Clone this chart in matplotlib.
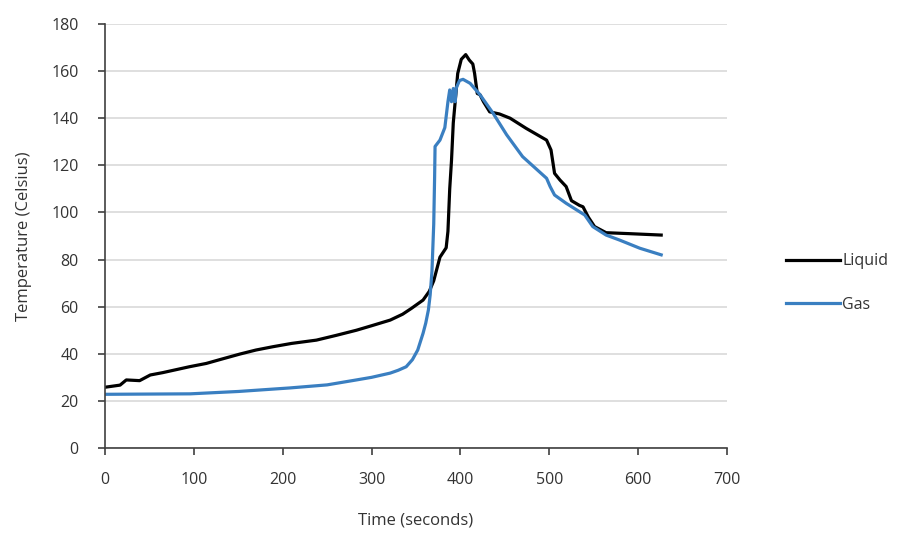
import matplotlib.pyplot as plt

# Liquid thermocouple readings
liquid_t = [0, 17, 24, 39, 51, 65, 77, 95, 114, 130, 152, 170, 189, 210, 238,
            260, 283, 300, 321, 335, 345, 358, 365, 370, 377, 384, 386, 388,
            390, 392, 397, 401, 406, 410, 414, 416, 419, 422, 426, 433, 444,
            456, 474, 497, 502, 506, 512, 519, 525, 534, 538, 544, 551, 564,
            590, 626]
liquid_T = [25.8, 26.7, 28.9, 28.6, 31, 32, 33, 34.5, 35.9, 37.6, 39.9, 41.6,
            43, 44.4, 45.8, 47.8, 50, 51.9, 54.3, 56.8, 59.3, 62.8, 66.5, 71,
            81, 85, 92, 110, 122, 138, 159, 165, 167, 164.7, 163, 159, 150.5,
            150, 147, 142.7, 141.8, 140, 135.7, 130.7, 126.5, 116.6, 113.8,
            111, 105, 103, 102.4, 98, 94, 91.4, 91, 90.4]

# Gas thermocouple readings
gas_t = [0, 96, 150, 208, 250, 283, 300, 321, 330, 339, 346, 352, 358, 361,
         364, 366, 368, 370, 371, 371.5, 377, 382.5, 386, 388, 390, 392, 394,
         395.5, 399, 403, 411, 422, 437, 452, 470, 497, 501, 506, 519, 540,
         549, 564, 579, 602, 626]
gas_T = [22.8, 23, 24, 25.5, 26.8, 28.9, 30, 31.8, 33, 34.5, 37.5, 41.6, 48.7,
         53, 58.6, 65, 75, 95, 115, 128, 130.7, 136, 147, 152, 147, 152.6, 147,
         153, 156, 156.5, 154.8, 150, 142, 133, 123.7, 114.5, 111, 107.4,
         103.9, 98.9, 94, 90.4, 88.3, 84.8, 82]

x_ticks = [0, 100, 200, 300, 400, 500, 600, 700]
y_ticks = [0, 20, 40, 60, 80, 100, 120, 140, 160, 180]

plt.rcParams['font.family'] = ['Open Sans', 'DejaVu Sans']
text_color = '#333333'

fig = plt.figure(figsize=(9.08, 5.39), dpi=100)
ax = fig.add_axes([0.1156, 0.1688, 0.685, 0.7867])

ax.plot(liquid_t, liquid_T, color='#000000', lw=2.3, label='Liquid')
ax.plot(gas_t, gas_T, color='#3a7fc1', lw=2.3, label='Gas')

ax.set_xlim(0, 700)
ax.set_ylim(0, 180)
ax.set_xticks(x_ticks)
ax.set_yticks(y_ticks)

ax.grid(axis='y', color='#d9d9d9', lw=1.2)
ax.set_axisbelow(True)
for side in ['top', 'right']:
    ax.spines[side].set_visible(False)
for side in ['left', 'bottom']:
    ax.spines[side].set_color('#404040')
    ax.spines[side].set_linewidth(1.2)

ax.tick_params(axis='both', direction='out', length=5, width=1.2,
               color='#404040', labelsize=11.5, labelcolor=text_color)
ax.tick_params(axis='x', pad=12)
ax.tick_params(axis='y', pad=14)

ax.set_xlabel('Time (seconds)', fontsize=12, color=text_color, labelpad=18)
ax.set_ylabel('Temperature (Celsius)', fontsize=12, color=text_color, labelpad=14)

fig.legend(loc='center left', bbox_to_anchor=(0.85, 0.475), frameon=False,
           fontsize=11.5, labelcolor=text_color, handlelength=3.4,
           handletextpad=0.1, labelspacing=1.7)

plt.savefig('out.png', dpi=100)
